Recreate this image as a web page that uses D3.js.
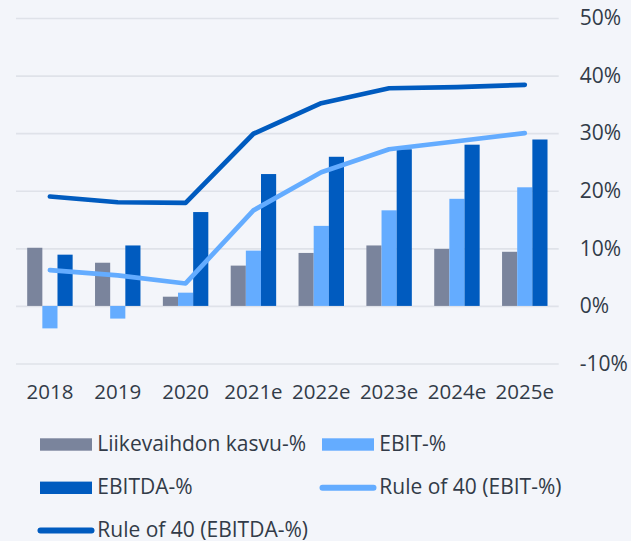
<!DOCTYPE html>
<html>
<head>
<meta charset="utf-8">
<script src="https://cdn.jsdelivr.net/npm/d3@7"></script>
<style>
  body { margin: 0; background: #f3f5fa; }
  svg { display: block; }
  text { font-family: "Open Sans", Lato, sans-serif; fill: #323b48; }
</style>
</head>
<body>
<svg id="chart" width="631" height="541"></svg>
<script>
var years = ["2018", "2019", "2020", "2021e", "2022e", "2023e", "2024e", "2025e"];
var kasvu = [10.1, 7.5, 1.6, 7.0, 9.2, 10.5, 9.9, 9.4];
var ebit = [-3.9, -2.2, 2.3, 9.6, 13.9, 16.6, 18.6, 20.6];
var ebitda = [8.9, 10.5, 16.3, 22.9, 25.9, 27.2, 28.0, 28.9];
var ruleEbit = [6.2, 5.3, 3.9, 16.6, 23.2, 27.2, 28.6, 30.0];
var ruleEbitda = [19.0, 18.0, 17.9, 29.9, 35.2, 37.8, 38.0, 38.4];
var yTicks = [-10, 0, 10, 20, 30, 40, 50];

var barSeries = [
  {name: "Liikevaihdon kasvu-%", values: kasvu, color: "#7a849c"},
  {name: "EBIT-%", values: ebit, color: "#64acff"},
  {name: "EBITDA-%", values: ebitda, color: "#005bbf"}
];
var lineSeries = [
  {name: "Rule of 40 (EBIT-%)", values: ruleEbit, color: "#64acff"},
  {name: "Rule of 40 (EBITDA-%)", values: ruleEbitda, color: "#005bbf"}
];

var svg = d3.select("#chart");

var x = d3.scaleBand()
  .domain(years)
  .range([16, 558.7])
  .paddingInner(0.33)
  .paddingOuter(0.165);

var x1 = d3.scaleBand()
  .domain(barSeries.map(function(s) { return s.name; }))
  .range([0, x.bandwidth()]);

var y = d3.scaleLinear()
  .domain([-10, 50])
  .range([363.5, 18]);

// gridlines + right labels
var yAxis = d3.axisRight(y)
  .tickValues(yTicks)
  .tickSize(542.7)
  .tickPadding(21)
  .tickFormat(function(d) { return d + "%"; });

var gy = svg.append("g")
  .attr("transform", "translate(16,0)")
  .call(yAxis);
gy.select(".domain").remove();
gy.selectAll("line").attr("stroke", "#dfe2e9").attr("stroke-width", 1.6);
gy.selectAll("text").attr("font-size", 21).attr("fill", "#323b48");

// bars
barSeries.forEach(function(s) {
  svg.append("g").selectAll("rect")
    .data(s.values)
    .join("rect")
    .attr("x", function(d, i) { return x(years[i]) + x1(s.name); })
    .attr("width", x1.bandwidth())
    .attr("y", function(d) { return y(Math.max(0, d)); })
    .attr("height", function(d) { return Math.abs(y(d) - y(0)); })
    .attr("fill", s.color);
});

// lines
var line = d3.line()
  .x(function(d, i) { return x(years[i]) + x.bandwidth() / 2; })
  .y(function(d) { return y(d); });

lineSeries.forEach(function(s) {
  svg.append("path")
    .datum(s.values)
    .attr("d", line)
    .attr("fill", "none")
    .attr("stroke", s.color)
    .attr("stroke-width", 4.7)
    .attr("stroke-linecap", "round")
    .attr("stroke-linejoin", "round");
});

// x labels
var gx = svg.append("g")
  .attr("transform", "translate(0,399.3)")
  .call(d3.axisBottom(x).tickSize(0).tickPadding(0));
gx.select(".domain").remove();
gx.selectAll("text")
  .attr("font-size", 20.5)
  .attr("dy", 0)
  .attr("fill", "#323b48");

// legend
var legendItems = [
  {s: barSeries[0], type: "bar", col: 0, row: 0},
  {s: barSeries[1], type: "bar", col: 1, row: 0},
  {s: barSeries[2], type: "bar", col: 0, row: 1},
  {s: lineSeries[0], type: "line", col: 1, row: 1},
  {s: lineSeries[1], type: "line", col: 0, row: 2}
];
var colX = [40, 322];
var rowY = [444.5, 487.8, 530.5];

var lg = svg.append("g").selectAll("g")
  .data(legendItems)
  .join("g")
  .attr("transform", function(d) { return "translate(" + colX[d.col] + "," + rowY[d.row] + ")"; });

lg.filter(function(d) { return d.type === "bar"; })
  .append("rect")
  .attr("x", 0).attr("y", -6.2)
  .attr("width", 52).attr("height", 12.4)
  .attr("fill", function(d) { return d.s.color; });

lg.filter(function(d) { return d.type === "line"; })
  .append("line")
  .attr("x1", 0.5).attr("x2", 51.5)
  .attr("stroke", function(d) { return d.s.color; })
  .attr("stroke-width", 6)
  .attr("stroke-linecap", "round");

lg.append("text")
  .attr("x", 57.3)
  .attr("y", 6)
  .attr("font-size", 21)
  .text(function(d) { return d.s.name; });
</script>
</body>
</html>
